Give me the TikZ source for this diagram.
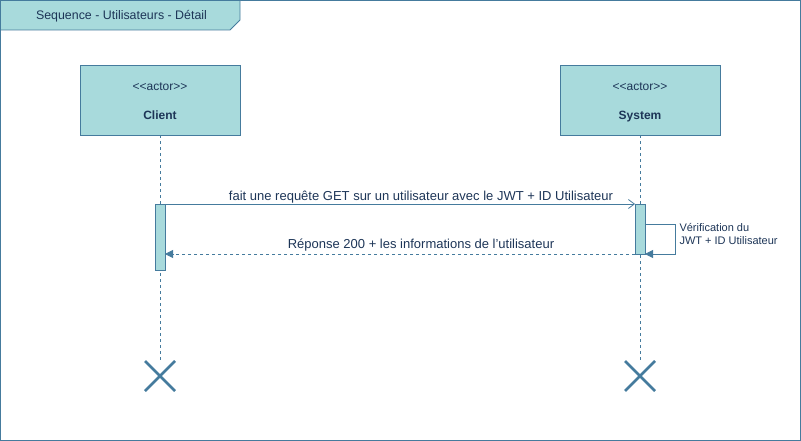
\documentclass[tikz,border=0pt]{standalone}
\usepackage{fontspec}
\setmainfont{Liberation Sans}
\usetikzlibrary{arrows.meta}
\definecolor{fillc}{HTML}{A8DADC}
\definecolor{linec}{HTML}{457B9D}
\definecolor{textc}{HTML}{1D3557}
\begin{document}
\begin{tikzpicture}[x=1pt,y=-1pt,
  every node/.style={text=textc,font=\fontsize{12}{14}\selectfont},
  actorbox/.style={draw=linec,fill=fillc,minimum width=160pt,minimum height=70pt,inner sep=0pt},
  actbar/.style={draw=linec,fill=fillc,minimum width=10pt,inner sep=0pt},
  lifeline/.style={draw=linec,dashed,dash pattern=on 3pt off 3pt},
  endx/.style={draw=linec,line width=2.5pt},
  msg/.style={draw=linec,line width=0.8pt},
  lbl/.style={anchor=base,font=\fontsize{13}{15}\selectfont},
]
\useasboundingbox (0,0) rectangle (801,441);
% frame
\draw[linec,line width=0.8pt] (0.5,0.5) rectangle (800.5,440.5);
\draw[linec,fill=fillc,line width=0.8pt] (0.5,0.5) -- (240,0.5) -- (240,20) -- (230,30) -- (0.5,30) -- cycle;
\node[anchor=base,font=\fontsize{12.4}{14}\selectfont] (title) at (121.5,19.5) {Sequence - Utilisateurs - Détail};
% actors
\node[actorbox] (client) at (160,100) {};
\node[actorbox] (system) at (640,100) {};
\node[anchor=base] at (160,91) {<{}<actor>{}>};
\node[anchor=base,font=\bfseries\fontsize{12}{14}\selectfont] at (160,119.5) {Client};
\node[anchor=base] at (640,91) {<{}<actor>{}>};
\node[anchor=base,font=\bfseries\fontsize{12}{14}\selectfont] at (640,119.5) {System};
% end marks
\draw[lifeline] (client.south) -- (160,361);
\draw[lifeline] (system.south) -- (640,361);
\draw[endx] (145,361) -- (175,391) (175,361) -- (145,391);
\draw[endx] (625,361) -- (655,391) (655,361) -- (625,391);
% activations
\node[actbar,minimum height=66pt] (ca) at (160,237) {};
\node[actbar,minimum height=50pt] (sa) at (640,229) {};
% message 1
\coordinate (m1s) at (165,204);
\coordinate (m1e) at (635,204);
\draw[msg,-{Straight Barb[length=6pt,width=9pt]}] (m1s) -- (m1e);
\node[lbl] at (421,200.5) {fait une requête GET sur un utilisateur avec le JWT + ID Utilisateur};
% self
\coordinate (s1) at (645,224);
\coordinate (s2) at (645,254);
\draw[msg,-{Triangle[length=8pt,width=8pt]}] (s1) -- (675,224) -- (675,254) -- (s2);
\node[anchor=west,align=left,font=\fontsize{11}{13}\selectfont] at (676,234.5) {Vérification du\\JWT + ID Utilisateur};
% return
\draw[msg,dashed,dash pattern=on 3pt off 3pt,-{Triangle[length=8pt,width=8pt]}] (635,254) -- (165,254);
\node[lbl] at (421,248.5) {Réponse 200 + les informations de l\symbol{39}utilisateur};
\end{tikzpicture}
\end{document}
